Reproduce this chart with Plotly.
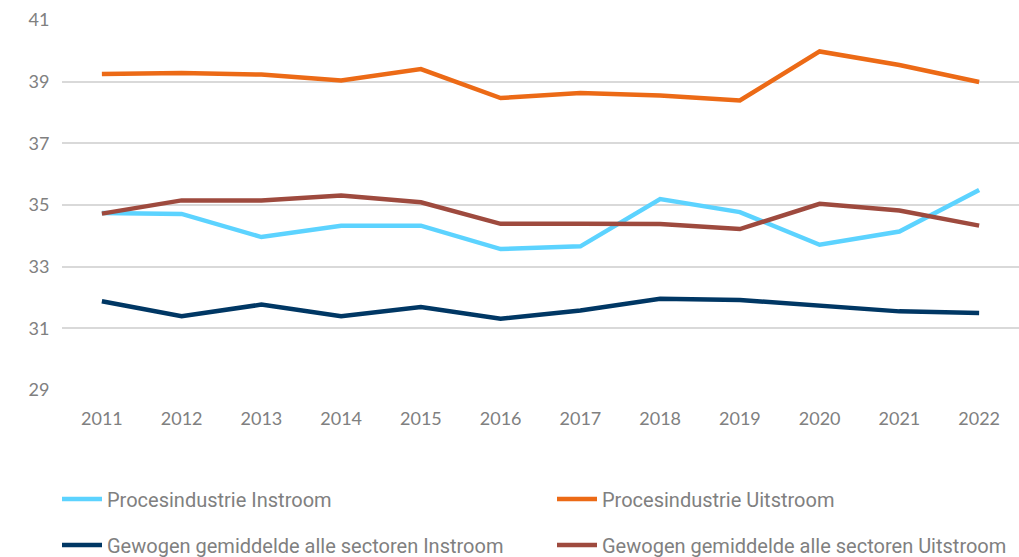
import plotly.graph_objects as go

years = ["2011", "2012", "2013", "2014", "2015", "2016", "2017", "2018", "2019", "2020", "2021", "2022"]
proces_instroom = [34.74, 34.71, 33.96, 34.33, 34.33, 33.57, 33.66, 35.19, 34.77, 33.71, 34.14, 35.49]
proces_uitstroom = [39.25, 39.28, 39.23, 39.04, 39.41, 38.47, 38.63, 38.55, 38.39, 39.98, 39.54, 38.99]
gewogen_instroom = [31.88, 31.39, 31.77, 31.39, 31.69, 31.31, 31.58, 31.96, 31.92, 31.74, 31.55, 31.50]
gewogen_uitstroom = [34.72, 35.15, 35.15, 35.31, 35.09, 34.39, 34.39, 34.38, 34.22, 35.04, 34.82, 34.33]
y_ticks = [29, 31, 33, 35, 37, 39, 41]

series = [
    ("Procesindustrie Instroom", proces_instroom, "#5CD3FF", "legend"),
    ("Procesindustrie Uitstroom", proces_uitstroom, "#EC6A16", "legend2"),
    ("Gewogen gemiddelde alle sectoren Instroom", gewogen_instroom, "#003764", "legend3"),
    ("Gewogen gemiddelde alle sectoren Uitstroom", gewogen_uitstroom, "#9E4A3E", "legend4"),
]

fig = go.Figure()
for name, vals, color, leg in series:
    fig.add_trace(go.Scatter(
        x=years, y=vals, name=name, mode="lines",
        line=dict(color=color, width=4.5),
        legend=leg,
    ))

font_family = "Roboto, Lato, sans-serif"
leg_common = dict(
    orientation="h", xanchor="left", yanchor="middle",
    font=dict(family=font_family, size=20, color="#808080"),
    bgcolor="rgba(0,0,0,0)", itemwidth=40,
)

def px_x(p):
    return (p - 62) / 957.0

def px_y(p):
    return (557 - 167 - p) / 370.0

fig.update_layout(
    width=1019, height=557,
    margin=dict(l=62, r=0, t=20, b=167, autoexpand=False),
    paper_bgcolor="white", plot_bgcolor="white",
    font=dict(family="Lato, sans-serif", color="#808080"),
    showlegend=True,
    legend=dict(x=px_x(57), y=px_y(499), **leg_common),
    legend2=dict(x=px_x(552), y=px_y(499), **leg_common),
    legend3=dict(x=px_x(57), y=px_y(545), **leg_common),
    legend4=dict(x=px_x(552), y=px_y(545), **leg_common),
    xaxis=dict(
        type="category", range=[-0.5, 11.5],
        showgrid=False, showline=False, zeroline=False,
        ticks="outside", ticklen=12, tickcolor="rgba(0,0,0,0)",
        tickfont=dict(size=18, color="#808080", family="Lato, sans-serif"),
    ),
    yaxis=dict(
        range=[29, 41], tickvals=y_ticks,
        showgrid=True, gridcolor="#D9D9D9", gridwidth=1.5,
        showline=False, zeroline=False,
        ticks="outside", ticklen=8, tickcolor="rgba(0,0,0,0)",
        tickfont=dict(size=18, color="#808080", family="Lato, sans-serif"),
    ),
)

fig.write_html(
    "out.html",
    config={"displayModeBar": False},
    post_script="document.body.style.margin='0';document.body.style.overflow='hidden';",
)
